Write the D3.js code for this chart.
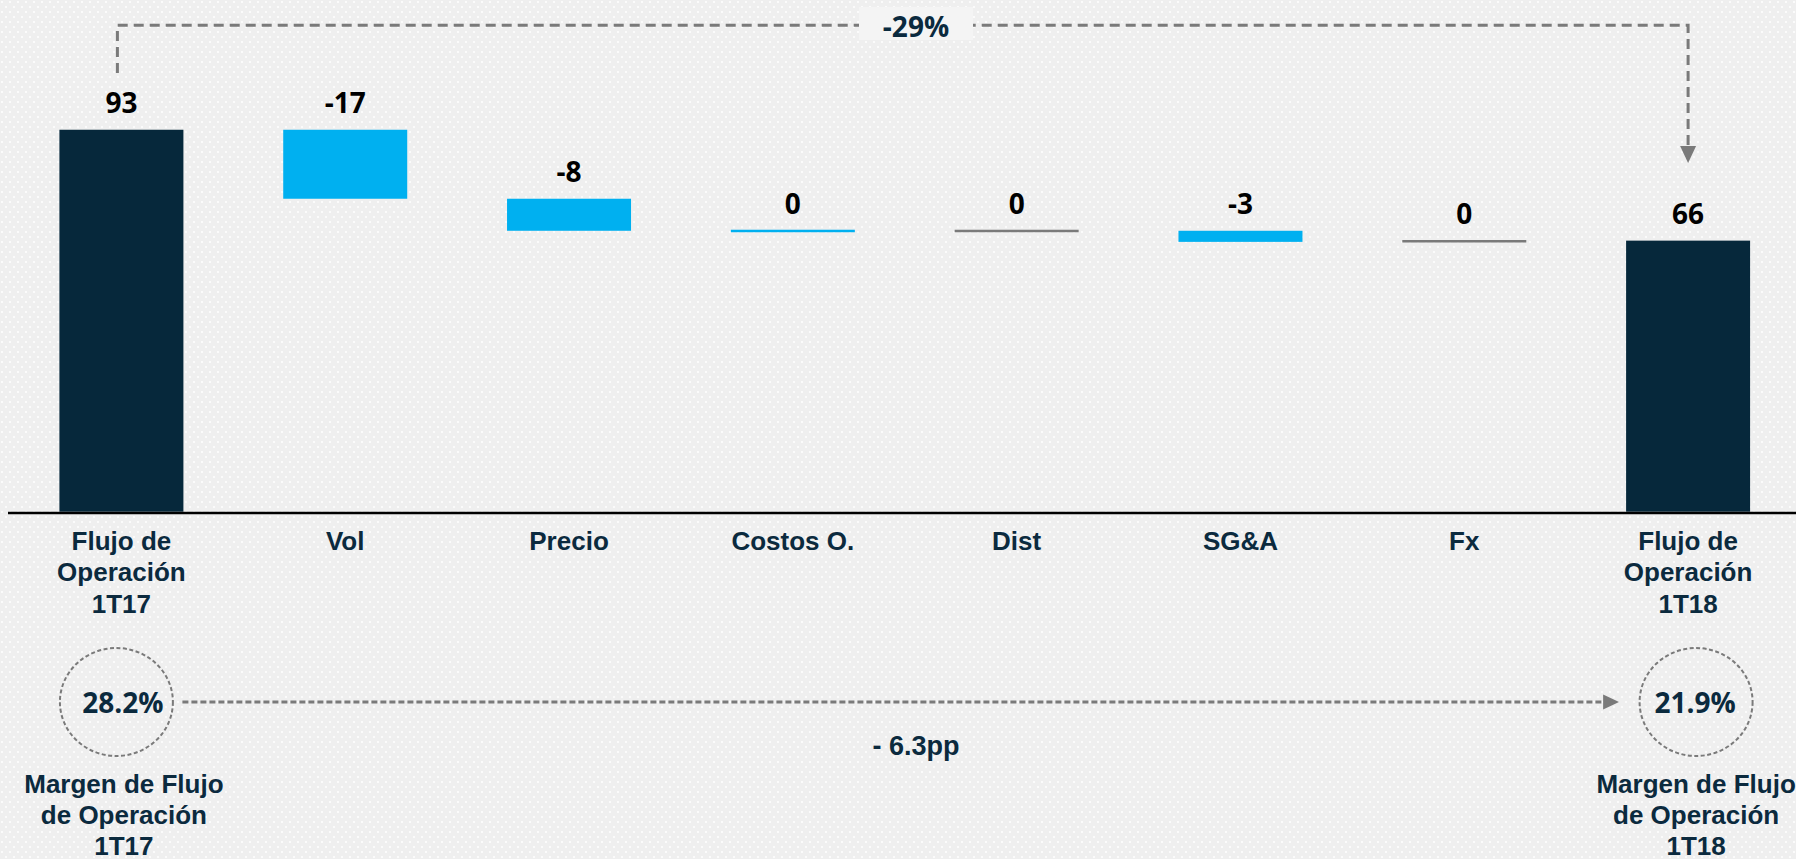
<!DOCTYPE html>
<html>
<head>
<meta charset="utf-8">
<script src="https://cdn.jsdelivr.net/npm/d3@7"></script>
<style>
  html, body { margin: 0; padding: 0; background: #f1f1f1; overflow: hidden; }
  svg { display: block; }
</style>
</head>
<body>
<div id="chart"></div>
<script>
// waterfall: Flujo de Operación 1T17 -> 1T18
const categories = ["Flujo de\nOperación\n1T17", "Vol", "Precio", "Costos O.", "Dist", "SG&A", "Fx", "Flujo de\nOperación\n1T18"];
const startValue = 93;
const deltas = [-16.8, -7.8, -0.1, 0.1, -2.7, 0.3];   // Vol .. Fx
const endValue = 66;
const marginValues = [28.2, 21.9];                     // margen 1T17, 1T18
const marginTitles = ["Margen de Flujo\nde Operación\n1T17", "Margen de Flujo\nde Operación\n1T18"];

const W = 1796, H = 859;
const navy = "#0b2a3e", barDark = "#06283b", blue = "#00b0f0", grey = "#7a7a7a";
const sans = "'Liberation Sans', Arial, sans-serif";
const open = "'Open Sans', sans-serif";

// build steps
let run = startValue;
const steps = [{cat: categories[0], from: 0, to: startValue, kind: "total"}];
deltas.forEach((d, i) => {
  steps.push({cat: categories[i + 1], from: run, to: run + d, kind: d < 0 ? "neg" : "pos", delta: d});
  run += d;
});
steps.push({cat: categories[categories.length - 1], from: 0, to: endValue, kind: "total"});

const fmt = v => { const r = Math.round(v); return r === 0 ? "0" : String(r); };

const svg = d3.select("#chart").append("svg")
  .attr("width", W)
  .attr("height", H);

// dotted background
const pat = svg.append("defs").append("pattern")
  .attr("id", "dots")
  .attr("width", 8).attr("height", 10)
  .attr("patternUnits", "userSpaceOnUse");
pat.append("rect").attr("width", 8).attr("height", 10).attr("fill", "#efefef");
pat.append("rect").attr("x", 1).attr("y", 1).attr("width", 2).attr("height", 2).attr("fill", "#fbfbfb");
pat.append("rect").attr("x", 5).attr("y", 6).attr("width", 2).attr("height", 2).attr("fill", "#fbfbfb");
svg.append("rect").attr("width", W).attr("height", H).attr("fill", "url(#dots)");

const x = d3.scaleBand()
  .domain(categories)
  .range([9.5, 1800])
  .paddingInner(0.446)
  .paddingOuter(0.223);

const y = d3.scaleLinear()
  .domain([0, 100])
  .range([511.7, 101]);

const bw = x.bandwidth();
const xc = c => x(c) + bw / 2;

// bars
svg.append("g").selectAll("rect")
  .data(steps)
  .join("rect")
    .attr("x", d => x(d.cat))
    .attr("width", bw)
    .attr("y", d => {
      const top = y(Math.max(d.from, d.to)), h = Math.abs(y(d.from) - y(d.to));
      return h < 2.5 ? top - (2.5 - h) / 2 : top;
    })
    .attr("height", d => Math.max(2.5, Math.abs(y(d.from) - y(d.to))))
    .attr("fill", d => d.kind === "total" ? barDark : d.kind === "neg" ? blue : grey);

// value labels
svg.append("g").selectAll("text")
  .data(steps)
  .join("text")
    .attr("x", d => xc(d.cat))
    .attr("y", d => y(Math.max(d.from, d.to)) - 17)
    .attr("text-anchor", "middle")
    .style("font-family", open)
    .style("font-weight", 700)
    .style("font-size", "28px")
    .attr("fill", "#000")
    .text(d => fmt(d.kind === "total" ? d.to : d.delta));

// x axis
const axis = svg.append("g")
  .attr("transform", "translate(0,513)")
  .call(d3.axisBottom(x).tickSize(0).tickSizeOuter(0));
axis.select(".domain")
  .attr("stroke", "#000")
  .attr("stroke-width", 2.5)
  .attr("d", `M${8},0H${W}`);
axis.selectAll(".tick text").each(function(d) {
  const t = d3.select(this).attr("dy", null).attr("y", null).text(null)
    .style("font-family", sans)
    .style("font-weight", 700)
    .style("font-size", "26px")
    .attr("fill", navy);
  d.split("\n").forEach((line, i) => {
    t.append("tspan").attr("x", 0).attr("y", 37 + i * 31.3).text(line);
  });
});

// top bracket with -29%
const x0 = xc(categories[0]) - 4, x1 = xc(categories[categories.length - 1]);
const midX = 916;
svg.append("path")
  .attr("d", `M${x0},73V25.3H${x1}V146`)
  .attr("fill", "none")
  .attr("stroke", grey)
  .attr("stroke-width", 3)
  .attr("stroke-dasharray", "10,6");
svg.append("path")
  .attr("d", `M${x1 - 8},146L${x1 + 8},146L${x1},163Z`)
  .attr("fill", grey);
svg.append("rect")
  .attr("x", midX - 57).attr("y", 7)
  .attr("width", 114).attr("height", 33)
  .attr("fill", "#f4f4f4");
svg.append("text")
  .attr("x", midX).attr("y", 36.5)
  .attr("text-anchor", "middle")
  .style("font-family", open)
  .style("font-weight", 700)
  .style("font-size", "28px")
  .attr("fill", navy)
  .text(Math.round((endValue / startValue - 1) * 100) + "%");

// margin circles
const circles = [
  {cx: xc(categories[0]) - 5, tx: xc(categories[0]) + 1.5, v: marginValues[0], title: marginTitles[0]},
  {cx: xc(categories[categories.length - 1]) + 8, tx: xc(categories[categories.length - 1]) + 7, v: marginValues[1], title: marginTitles[1]}
];
const cy = 702;
const cg = svg.append("g").selectAll("g").data(circles).join("g");
cg.append("ellipse")
  .attr("cx", d => d.cx).attr("cy", cy)
  .attr("rx", 56.5).attr("ry", 54)
  .attr("fill", "none")
  .attr("stroke", grey)
  .attr("stroke-width", 2)
  .attr("stroke-dasharray", "4,2.5");
cg.append("text")
  .attr("x", d => d.tx).attr("y", 713)
  .attr("text-anchor", "middle")
  .style("font-family", open)
  .style("font-weight", 700)
  .style("font-size", "28px")
  .attr("fill", navy)
  .text(d => d.v.toFixed(1) + "%");
cg.append("text")
  .attr("text-anchor", "middle")
  .style("font-family", sans)
  .style("font-weight", 700)
  .style("font-size", "26px")
  .attr("fill", navy)
  .each(function(d) {
    const t = d3.select(this);
    d.title.split("\n").forEach((line, i) => {
      t.append("tspan").attr("x", d.tx + 1).attr("y", 792.5 + i * 31).text(line);
    });
  });

// margin change arrow
const ax0 = circles[0].cx + 66, ax1 = circles[1].cx - 77;
svg.append("line")
  .attr("x1", ax0).attr("x2", ax1 - 15)
  .attr("y1", cy).attr("y2", cy)
  .attr("stroke", grey)
  .attr("stroke-width", 2.8)
  .attr("stroke-dasharray", "6,3");
svg.append("path")
  .attr("d", `M${ax1 - 16},${cy - 7.5}L${ax1},${cy}L${ax1 - 16},${cy + 7.5}Z`)
  .attr("fill", grey);
const diff = marginValues[1] - marginValues[0];
svg.append("text")
  .attr("x", midX).attr("y", 755)
  .attr("text-anchor", "middle")
  .style("font-family", sans)
  .style("font-weight", 700)
  .style("font-size", "27px")
  .attr("fill", navy)
  .text((diff < 0 ? "- " : "+ ") + Math.abs(diff).toFixed(1) + "pp");
</script>
</body>
</html>
